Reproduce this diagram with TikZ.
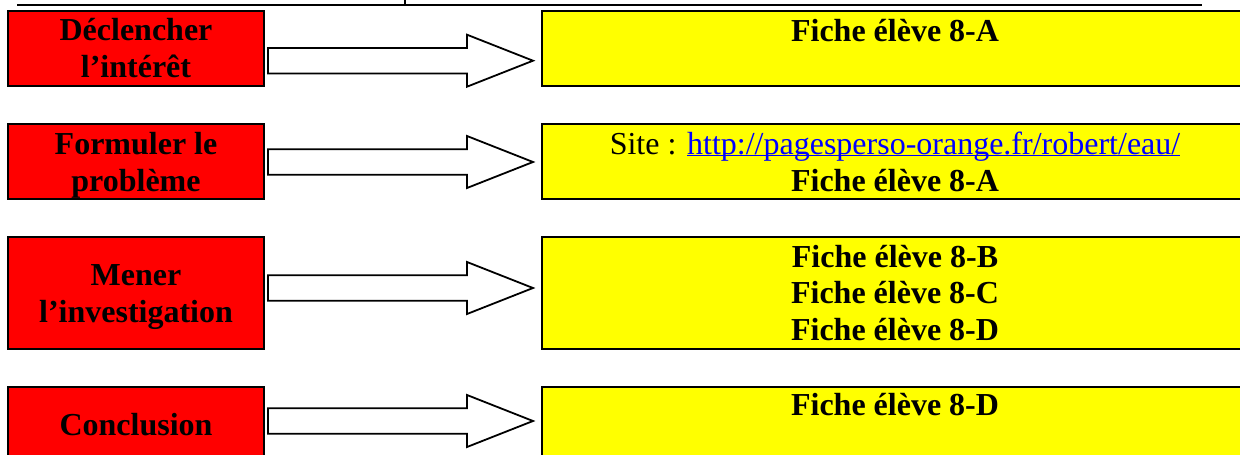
\documentclass[tikz,border=0pt]{standalone}
\usepackage{fontspec}
\setmainfont{Liberation Serif}
\usetikzlibrary{calc}
\definecolor{boxred}{RGB}{255,0,0}
\definecolor{boxyellow}{RGB}{255,255,0}
\definecolor{linkblue}{RGB}{0,0,255}
\tikzset{
  redbox/.style={draw=black, line width=2.6pt, fill=boxred, minimum width=256pt, minimum height=75pt, inner sep=0pt, outer sep=0pt},
  yellowbox/.style={draw=black, line width=2.6pt, fill=boxyellow, minimum width=708pt, minimum height=75pt, inner sep=0pt, outer sep=0pt},
  lbl/.style={anchor=base, inner sep=0pt, font=\fontsize{32}{37}\selectfont\bfseries},
  lblreg/.style={anchor=base, inner sep=0pt, font=\fontsize{32}{37}\selectfont},
  blockarrow/.style={draw=black, line width=1.8pt, fill=white, line join=miter}
}
\begin{document}
\begin{tikzpicture}[x=1pt, y=-1pt]
\useasboundingbox (0,0) rectangle (1240,455);
\clip (0,0) rectangle (1240,455);
% top rule (remnant of cut-off header)
\draw[line width=2.4pt] (17,4.7) -- (1202,4.7);
\draw[line width=1.6pt] (405,0) -- (405,6);
% left red boxes
\node[redbox] (r1) at (136,48.5) {};
\node[redbox] (r2) at (136,161.5) {};
\node[redbox, minimum height=112pt] (r3) at (136,293) {};
\node[redbox] (r4) at (136,424.5) {};
% right yellow boxes
\node[yellowbox] (y1) at (896,48.5) {};
\node[yellowbox] (y2) at (896,161.5) {};
\node[yellowbox, minimum height=112pt] (y3) at (896,293) {};
\node[yellowbox] (y4) at (896,424.5) {};
% red labels
\node[lbl] (r1a) at (136,40.5) {Déclencher};
\node[lbl] (r1b) at (136,77.5) {l’intérêt};
\node[lbl] (r2a) at (136,154) {Formuler le};
\node[lbl] (r2b) at (136,191) {problème};
\node[lbl] (r3a) at (136,285.7) {Mener};
\node[lbl] (r3b) at (136,322) {l’investigation};
\node[lbl] (r4a) at (136,435) {Conclusion};
% yellow labels
\node[lbl] (y1a) at (895,41) {Fiche élève 8-A};
\node[lblreg] (y2a) at (895,154) {Site : \textcolor{linkblue}{\underline{\smash{http://pagesperso-orange.fr/robert/eau/}}}};
\node[lbl] (y2b) at (895,191) {Fiche élève 8-A};
\node[lbl] (y3a) at (895,267) {Fiche élève 8-B};
\node[lbl] (y3b) at (895,303.5) {Fiche élève 8-C};
\node[lbl] (y3c) at (895,340) {Fiche élève 8-D};
\node[lbl] (y4a) at (895,415) {Fiche élève 8-D};
% block arrows
\coordinate (a1s) at (268,60.7);  \coordinate (a1t) at (533,60.7);
\coordinate (a2s) at (268,162);   \coordinate (a2t) at (533,162);
\coordinate (a3s) at (268,288);   \coordinate (a3t) at (533,288);
\coordinate (a4s) at (268,421);   \coordinate (a4t) at (533,421);
\foreach \s/\t in {a1s/a1t, a2s/a2t, a3s/a3t, a4s/a4t}{
  \draw[blockarrow] ($(\s)+(0,-12.8)$) -- ($(\t)+(-66,-12.8)$) -- ($(\t)+(-66,-26)$) -- (\t)
    -- ($(\t)+(-66,26)$) -- ($(\t)+(-66,12.8)$) -- ($(\s)+(0,12.8)$) -- cycle;
}
\end{tikzpicture}
\end{document}
